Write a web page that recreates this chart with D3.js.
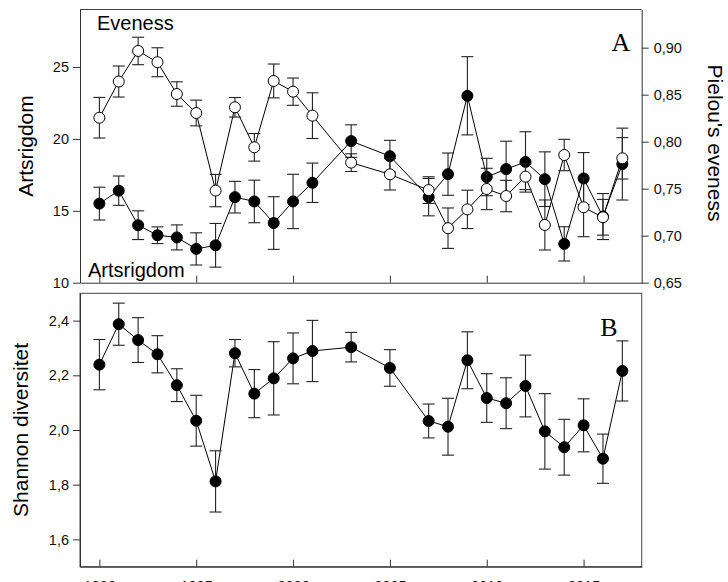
<!DOCTYPE html>
<html>
<head>
<meta charset="utf-8">
<script src="https://cdn.jsdelivr.net/npm/d3@7"></script>
<style>
  body { margin: 0; background: #fff; }
  svg { display: block; font-family: "Liberation Sans", Arial, sans-serif; }
</style>
</head>
<body>
<svg id="chart" width="728" height="582"></svg>
<script>
// years sampled (2002, 2004, 2006 missing)
const years = [1990, 1991, 1992, 1993, 1994, 1995, 1996, 1997, 1998, 1999, 2000, 2001,
               2003, 2005, 2007, 2008, 2009, 2010, 2011, 2012, 2013, 2014, 2015, 2016, 2017]

// panel A, filled circles: Artsrigdom (left axis)
const richness    = [15.5, 16.4, 14.0, 13.3, 13.15, 12.35, 12.6, 15.95, 15.65, 14.15, 15.65, 16.95,
                     19.85, 18.8, 15.95, 17.55, 23.0, 17.35, 17.9, 18.4, 17.2, 12.7, 17.25, 14.6, 18.25]
const richnessErr = [1.14, 1.02, 1.0, 0.58, 0.87, 1.12, 1.52, 1.1, 1.48, 1.83, 1.89, 1.37,
                     1.13, 1.1, 1.3, 1.47, 2.72, 1.3, 1.94, 2.1, 1.9, 1.19, 1.8, 1.6, 2.5]

// panel A, open circles: Pielou's eveness (right axis)
const evenness    = [0.8255, 0.864, 0.8965, 0.8845, 0.8507, 0.8305, 0.748, 0.8366, 0.794, 0.8646, 0.8532, 0.8277,
                     0.7777, 0.7653, 0.7485, 0.708, 0.728, 0.7497, 0.7422, 0.7628, 0.7114, 0.7858, 0.7302, 0.7196, 0.7823]
const evennessErr = [0.0216, 0.0165, 0.0146, 0.0154, 0.013, 0.0137, 0.0172, 0.0104, 0.0147, 0.018, 0.0145, 0.0243,
                     0.0094, 0.0167, 0.0142, 0.0215, 0.0204, 0.022, 0.0167, 0.0138, 0.0266, 0.0167, 0.0313, 0.019, 0.022]

// panel B: Shannon diversitet
const shannon    = [2.239, 2.387, 2.329, 2.277, 2.164, 2.034, 1.812, 2.281, 2.133, 2.189, 2.262, 2.289,
                    2.303, 2.227, 2.033, 2.012, 2.255, 2.117, 2.098, 2.161, 1.995, 1.937, 2.017, 1.895, 2.216]
const shannonErr = [0.092, 0.077, 0.082, 0.068, 0.06, 0.093, 0.112, 0.05, 0.088, 0.134, 0.093, 0.112,
                    0.054, 0.067, 0.062, 0.104, 0.104, 0.089, 0.093, 0.113, 0.138, 0.102, 0.097, 0.09, 0.11]

const xTicks    = [1990, 1995, 2000, 2005, 2010, 2015]
const richTicks = [10, 15, 20, 25]
const evenTicks = [0.65, 0.70, 0.75, 0.80, 0.85, 0.90]
const shanTicks = [1.6, 1.8, 2.0, 2.2, 2.4]

const svg = d3.select("#chart")
const comma = d3.formatLocale({decimal: ",", thousands: ".", grouping: [3], currency: ["", ""]})

const left = 80, right = 641.7
const aTop = 9.5, aBottom = 282.7
const bTop = 293.3, bBottom = 566.7

let x = d3.scaleLinear().domain([1989, 2018]).range([left, right])
let yRich = d3.scaleLinear().domain([10, 29]).range([aBottom, aTop])
let yEven = d3.scaleLinear().domain([0.65, 0.9406]).range([aBottom, aTop])
let yShan = d3.scaleLinear().domain([1.5, 2.5]).range([bBottom, bTop])

function styleAxis(g) {
  g.selectAll("path.domain").attr("stroke", "#333")
  g.selectAll(".tick line").attr("stroke", "#333")
  g.selectAll(".tick text").attr("font-size", 14.5).attr("fill", "#111")
    .attr("font-family", "'Liberation Sans', Arial, sans-serif")
}

// ---- panel A frame + axes
svg.append("line").attr("x1", left).attr("x2", right).attr("y1", aTop).attr("y2", aTop)
  .attr("stroke", "#444")

svg.append("g").attr("transform", `translate(${left},0)`)
  .call(d3.axisLeft(yRich).tickValues(richTicks).tickSize(7).tickSizeOuter(0).tickPadding(4))
  .call(styleAxis)

svg.append("g").attr("transform", `translate(${right},0)`)
  .call(d3.axisRight(yEven).tickValues(evenTicks).tickSize(7).tickSizeOuter(0).tickPadding(5)
        .tickFormat(comma.format(".2f")))
  .call(styleAxis)

svg.append("g").attr("transform", `translate(0,${aBottom})`)
  .call(d3.axisBottom(x).tickValues(xTicks).tickSizeInner(-7).tickSizeOuter(0).tickFormat(""))
  .call(styleAxis)

// ---- panel B frame + axes
svg.append("rect").attr("x", left).attr("y", bTop)
  .attr("width", right - left).attr("height", bBottom - bTop)
  .attr("fill", "none").attr("stroke", "#444")

svg.append("g").attr("transform", `translate(${left},0)`)
  .call(d3.axisLeft(yShan).tickValues(shanTicks).tickSize(7).tickSizeOuter(0).tickPadding(4)
        .tickFormat(comma.format(".1f")))
  .call(styleAxis)

svg.append("g").attr("transform", `translate(0,${bBottom})`)
  .call(d3.axisBottom(x).tickValues(xTicks).tickSizeInner(-7).tickSizeOuter(0).tickPadding(14)
        .tickFormat(d3.format("d")))
  .call(styleAxis)

// ---- series drawing
function drawSeries(vals, errs, y, fill) {
  let pts = years.map((yr, i) => ({yr: yr, v: vals[i], e: errs[i]}))
  let g = svg.append("g")
  g.append("path").datum(pts)
    .attr("fill", "none").attr("stroke", "#000").attr("stroke-width", 1)
    .attr("d", d3.line().x(d => x(d.yr)).y(d => y(d.v)))
  let eb = g.selectAll("g.err").data(pts).enter().append("g").attr("class", "err")
    .attr("stroke", "#222").attr("stroke-width", 1.1)
  eb.append("line").attr("x1", d => x(d.yr)).attr("x2", d => x(d.yr))
    .attr("y1", d => y(d.v - d.e)).attr("y2", d => y(d.v + d.e))
  eb.append("line").attr("x1", d => x(d.yr) - 6).attr("x2", d => x(d.yr) + 6)
    .attr("y1", d => y(d.v + d.e)).attr("y2", d => y(d.v + d.e))
  eb.append("line").attr("x1", d => x(d.yr) - 6).attr("x2", d => x(d.yr) + 6)
    .attr("y1", d => y(d.v - d.e)).attr("y2", d => y(d.v - d.e))
  g.selectAll("circle").data(pts).enter().append("circle")
    .attr("cx", d => x(d.yr)).attr("cy", d => y(d.v)).attr("r", 5.5)
    .attr("fill", fill).attr("stroke", "#000").attr("stroke-width", 1)
}

drawSeries(richness, richnessErr, yRich, "#000")
drawSeries(evenness, evennessErr, yEven, "#fff")
drawSeries(shannon, shannonErr, yShan, "#000")

// ---- labels
svg.append("text").attr("x", 97).attr("y", 30).attr("font-size", 20).text("Eveness")
svg.append("text").attr("x", 88).attr("y", 277).attr("font-size", 20).text("Artsrigdom")

svg.append("text").attr("x", 621).attr("y", 51).attr("text-anchor", "middle")
  .attr("font-family", "'Liberation Serif', 'Times New Roman', serif").attr("font-size", 26).text("A")
svg.append("text").attr("x", 609).attr("y", 336).attr("text-anchor", "middle")
  .attr("font-family", "'Liberation Serif', 'Times New Roman', serif").attr("font-size", 26).text("B")

svg.append("text").attr("transform", "translate(33,146) rotate(-90)")
  .attr("text-anchor", "middle").attr("font-size", 21).text("Artsrigdom")
svg.append("text").attr("transform", "translate(28,430) rotate(-90)")
  .attr("text-anchor", "middle").attr("font-size", 21).text("Shannon diversitet")
svg.append("text").attr("transform", "translate(708,143) rotate(90)")
  .attr("text-anchor", "middle").attr("font-size", 21).text("Pielou's eveness")
</script>
</body>
</html>
